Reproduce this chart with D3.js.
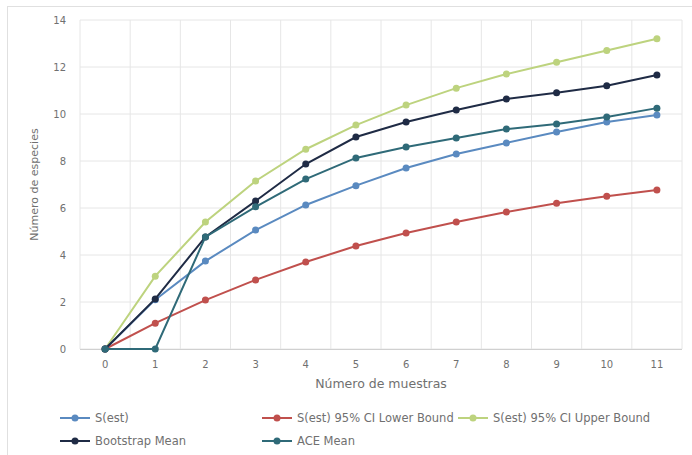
<!DOCTYPE html>
<html><head><meta charset="utf-8">
<script src="https://cdn.jsdelivr.net/npm/d3@7"></script>
<style>body{margin:0;background:#fff;}svg{display:block;font-family:"DejaVu Sans",sans-serif;}</style>
</head><body>
<svg id="c" width="692" height="455"></svg>
<script>
const categories = [0,1,2,3,4,5,6,7,8,9,10,11];
const yTicks = [0,2,4,6,8,10,12,14];
const seriesNames = ["S(est)","S(est) 95% CI Lower Bound","S(est) 95% CI Upper Bound","Bootstrap Mean","ACE Mean"];
const sEst   = [0,2.1,3.74,5.06,6.13,6.95,7.7,8.3,8.77,9.23,9.66,9.96];
const lower  = [0,1.1,2.08,2.94,3.7,4.38,4.94,5.4,5.83,6.2,6.5,6.77];
const upper  = [0,3.1,5.4,7.15,8.5,9.53,10.38,11.1,11.7,12.2,12.7,13.2];
const boot   = [0,2.13,4.77,6.3,7.87,9.02,9.66,10.17,10.64,10.9,11.2,11.66];
const ace    = [0,0,4.77,6.05,7.23,8.13,8.6,8.98,9.36,9.57,9.87,10.25];
const colors = ["#5a8ac0","#c0504d","#bdd37e","#1f2b45","#2f6a78"];
const xTitle = "Número de muestras";
const yTitle = "Número de especies";

const svg = d3.select("#c");
svg.append("rect").attr("x",7.5).attr("y",6.5).attr("width",700).attr("height",460)
  .attr("fill","none").attr("stroke","#e0e0e0");

const pL=80, pR=682, pT=20, pB=349;
const x = d3.scaleBand().domain(categories).range([pL,pR]);
const y = d3.scaleLinear().domain([0,14]).range([pB,pT]);

const g = svg.append("g");
g.selectAll(".hg").data(yTicks).enter().append("line")
  .attr("x1",pL).attr("x2",pR).attr("y1",d=>y(d)).attr("y2",d=>y(d))
  .attr("stroke","#e6e6e6").attr("stroke-width",1);
const bounds = categories.map(c=>x(c)).concat([pR]);
g.selectAll(".vg").data(bounds).enter().append("line")
  .attr("x1",d=>d).attr("x2",d=>d).attr("y1",pT).attr("y2",pB)
  .attr("stroke","#e6e6e6").attr("stroke-width",1);
svg.append("line").attr("x1",pL).attr("x2",pR).attr("y1",pB+0.5).attr("y2",pB+0.5).attr("stroke","#d0d0d0");

const yAxis = d3.axisLeft(y).tickValues(yTicks).tickSize(0).tickPadding(14);
const ya = svg.append("g").attr("transform",`translate(${pL},0)`).call(yAxis);
ya.select(".domain").remove();
ya.selectAll("text").attr("fill","#707070").style("font-size","10px").style("font-family","DejaVu Sans");
const xAxis = d3.axisBottom(x).tickSize(0).tickPadding(12);
const xa = svg.append("g").attr("transform",`translate(0,${pB})`).call(xAxis);
xa.select(".domain").remove();
xa.selectAll("text").attr("fill","#707070").style("font-size","10px").style("font-family","DejaVu Sans");

svg.append("text").attr("x",(pL+pR)/2).attr("y",388).attr("text-anchor","middle")
  .attr("fill","#707070").style("font-size","12.5px").text(xTitle);
svg.append("text").attr("transform",`translate(38,${(pT+pB)/2}) rotate(-90)`).attr("text-anchor","middle")
  .attr("fill","#707070").style("font-size","11px").text(yTitle);

const data = [sEst,lower,upper,boot,ace];
const order = [2,1,0,3,4];
const line = d3.line().x((d,i)=>x(categories[i])+x.bandwidth()/2).y(d=>y(d));
order.forEach(k=>{
  const s = svg.append("g");
  s.append("path").attr("d",line(data[k])).attr("fill","none").attr("stroke",colors[k]).attr("stroke-width",2);
  s.selectAll("circle").data(data[k]).enter().append("circle")
    .attr("cx",(d,i)=>x(categories[i])+x.bandwidth()/2).attr("cy",d=>y(d)).attr("r",3.5)
    .attr("fill",colors[k]);
});

const legPos = [[60,418],[262,418],[458,418],[60,441],[262,441]];
[0,1,2,3,4].forEach((k,i)=>{
  const [lx,ly] = legPos[i];
  const lg = svg.append("g").attr("transform",`translate(${lx},${ly})`);
  lg.append("line").attr("x1",0).attr("x2",30).attr("y1",0).attr("y2",0).attr("stroke",colors[k]).attr("stroke-width",2);
  lg.append("circle").attr("cx",15).attr("cy",0).attr("r",3.5).attr("fill",colors[k]);
  lg.append("text").attr("x",35).attr("y",4).attr("fill","#707070").style("font-size","11.5px").text(seriesNames[k]);
});
</script>
</body></html>
